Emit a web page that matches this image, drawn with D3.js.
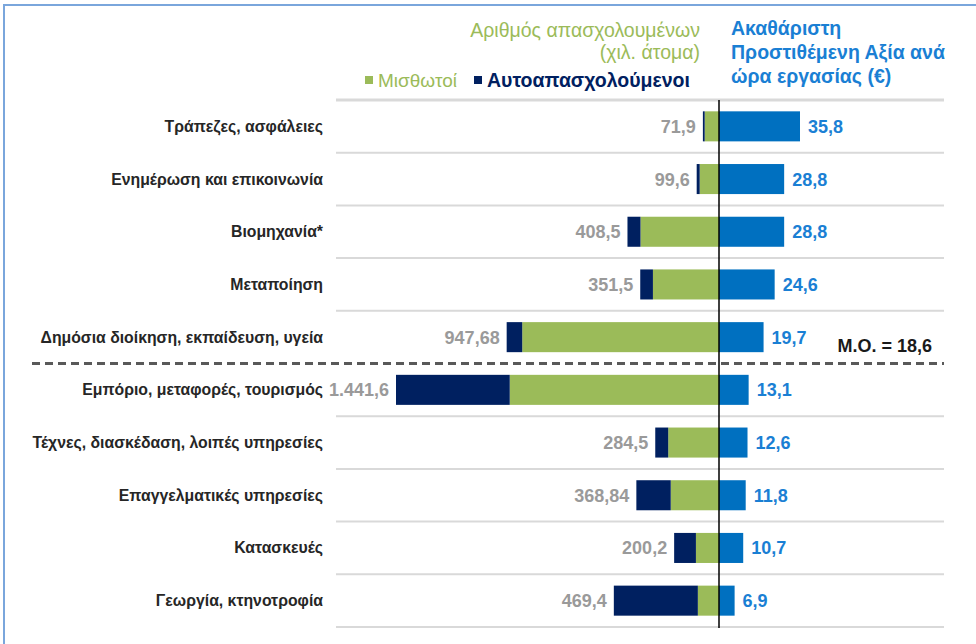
<!DOCTYPE html>
<html>
<head>
<meta charset="utf-8">
<script src="https://cdn.jsdelivr.net/npm/d3@7"></script>
<style>
  body { margin: 0; background: #fff; }
  svg { display: block; font-family: "Liberation Sans", Arial, sans-serif; }
</style>
</head>
<body>
<script>
// sectors, top to bottom
var sectors = [
  "Τράπεζες, ασφάλειες",
  "Ενημέρωση και επικοινωνία",
  "Βιομηχανία*",
  "Μεταποίηση",
  "Δημόσια διοίκηση, εκπαίδευση, υγεία",
  "Εμπόριο, μεταφορές, τουρισμός",
  "Τέχνες, διασκέδαση, λοιπές υπηρεσίες",
  "Επαγγελματικές υπηρεσίες",
  "Κατασκευές",
  "Γεωργία, κτηνοτροφία"
]
// thousand persons
var salaried     = [63.9, 86.2, 350.4, 294.9, 878.28, 934.0, 226.7, 215.44, 103.0, 94.4]
var selfEmployed = [8.0, 13.4, 58.1, 56.6, 69.4, 507.6, 57.8, 153.4, 97.2, 375.0]
var totalLabels  = ["71,9", "99,6", "408,5", "351,5", "947,68", "1.441,6", "284,5", "368,84", "200,2", "469,4"]
// gross value added per hour worked (€)
var gva       = [35.8, 28.8, 28.8, 24.6, 19.7, 13.1, 12.6, 11.8, 10.7, 6.9]
var gvaLabels = ["35,8", "28,8", "28,8", "24,6", "19,7", "13,1", "12,6", "11,8", "10,7", "6,9"]
var average = "Μ.Ο. = 18,6"

var width = 976, height = 644
var axisX = 719
var green = "#9bbb59", navy = "#002060", blue = "#0070c0"

var svg = d3.select("body").append("svg")
  .attr("width", width)
  .attr("height", height)

// frame
svg.append("path")
  .attr("d", "M4,644 V5 H976")
  .attr("fill", "none")
  .attr("stroke", "#7aa6dc")
  .attr("stroke-width", 2)

var y = d3.scaleBand()
  .domain(sectors)
  .range([100, 627])
  .paddingInner(0.43)
  .paddingOuter(0.215)

var xL = d3.scaleLinear().domain([0, 1441.6]).range([axisX, 396])
var xR = d3.scaleLinear().domain([0, 35.8]).range([axisX, 800])

var step = y.step()
var top0 = y.range()[0]

// grid lines between rows
var lines = d3.range(sectors.length + 1)
svg.selectAll("line.grid")
  .data(lines.filter(function(i){ return i != 5 }))
  .enter()
  .append("line")
  .attr("class", "grid")
  .attr("x1", 336).attr("x2", 944)
  .attr("y1", function(i){ return top0 + i * step })
  .attr("y2", function(i){ return top0 + i * step })
  .attr("stroke", "#d9d9d9")
  .attr("stroke-width", function(i){ return i == 0 ? 3 : 2 })

// dashed separator (above / below average)
svg.append("line")
  .attr("x1", 32).attr("x2", 944)
  .attr("y1", top0 + 5 * step).attr("y2", top0 + 5 * step)
  .attr("stroke", "#595959")
  .attr("stroke-width", 3)
  .attr("stroke-dasharray", "8,5")

var rows = svg.selectAll("g.row")
  .data(sectors)
  .enter()
  .append("g")
  .attr("class", "row")

// salaried (green) from the axis
rows.append("rect")
  .attr("x", function(d, i){ return xL(salaried[i]) })
  .attr("y", function(d){ return y(d) })
  .attr("width", function(d, i){ return axisX - xL(salaried[i]) })
  .attr("height", y.bandwidth())
  .attr("fill", green)

// self-employed (navy) stacked beyond
rows.append("rect")
  .attr("x", function(d, i){ return xL(salaried[i] + selfEmployed[i]) })
  .attr("y", function(d){ return y(d) })
  .attr("width", function(d, i){ return xL(salaried[i]) - xL(salaried[i] + selfEmployed[i]) })
  .attr("height", y.bandwidth())
  .attr("fill", navy)

// GVA bars
rows.append("rect")
  .attr("x", axisX)
  .attr("y", function(d){ return y(d) })
  .attr("width", function(d, i){ return xR(gva[i]) - axisX })
  .attr("height", y.bandwidth())
  .attr("fill", blue)

// labels
rows.append("text")
  .attr("x", 323)
  .attr("y", function(d){ return y(d) + y.bandwidth() / 2 })
  .attr("dy", "0.35em")
  .attr("text-anchor", "end")
  .attr("font-size", 15.8)
  .attr("font-weight", "bold")
  .attr("fill", "#262626")
  .text(function(d){ return d })

rows.append("text")
  .attr("x", function(d, i){ return xL(salaried[i] + selfEmployed[i]) - 7 })
  .attr("y", function(d){ return y(d) + y.bandwidth() / 2 })
  .attr("dy", "0.36em")
  .attr("text-anchor", "end")
  .attr("font-size", 18)
  .attr("font-weight", "bold")
  .attr("fill", "#9a9a9a")
  .text(function(d, i){ return totalLabels[i] })

rows.append("text")
  .attr("x", function(d, i){ return xR(gva[i]) + 8 })
  .attr("y", function(d){ return y(d) + y.bandwidth() / 2 })
  .attr("dy", "0.36em")
  .attr("font-size", 18)
  .attr("font-weight", "bold")
  .attr("fill", "#1a7fd4")
  .text(function(d, i){ return gvaLabels[i] })

// axis line
svg.append("line")
  .attr("x1", axisX).attr("x2", axisX)
  .attr("y1", 100).attr("y2", 628)
  .attr("stroke", "#000")
  .attr("stroke-width", 1.5)

// average note
svg.append("text")
  .attr("x", 932)
  .attr("y", y(sectors[4]) + y.bandwidth() / 2 + 15)
  .attr("text-anchor", "end")
  .attr("font-size", 18)
  .attr("font-weight", "bold")
  .attr("fill", "#1a1a1a")
  .text(average)

// header left: employment
var hl = svg.append("text")
  .attr("text-anchor", "end")
  .attr("font-size", 19.5)
  .attr("fill", green)
hl.append("tspan").attr("x", 700).attr("y", 37).text("Αριθμός απασχολουμένων")
hl.append("tspan").attr("x", 700).attr("y", 59).text("(χιλ. άτομα)")

// legend
var legend = [
  {name: "Μισθωτοί", color: green, x: 365, bold: false},
  {name: "Αυτοαπασχολούμενοι", color: navy, x: 474, bold: true}
]
var lg = svg.selectAll("g.legend")
  .data(legend)
  .enter()
  .append("g")
  .attr("transform", function(d){ return "translate(" + d.x + ",87)" })
lg.append("rect")
  .attr("x", 0).attr("y", -11)
  .attr("width", 8).attr("height", 8)
  .attr("fill", function(d){ return d.color })
lg.append("text")
  .attr("x", 13).attr("y", 0)
  .attr("font-size", function(d){ return d.bold ? 19.5 : 19 })
  .attr("font-weight", function(d){ return d.bold ? "bold" : "normal" })
  .attr("fill", function(d){ return d.color })
  .text(function(d){ return d.name })

// header right: GVA
var hr = svg.append("text")
  .attr("font-size", 19.5)
  .attr("font-weight", "bold")
  .attr("fill", "#1a7fd4")
hr.append("tspan").attr("x", 731).attr("y", 35).text("Ακαθάριστη")
hr.append("tspan").attr("x", 731).attr("y", 59).text("Προστιθέμενη Αξία ανά")
hr.append("tspan").attr("x", 731).attr("y", 83).text("ώρα εργασίας (€)")
</script>
</body>
</html>
